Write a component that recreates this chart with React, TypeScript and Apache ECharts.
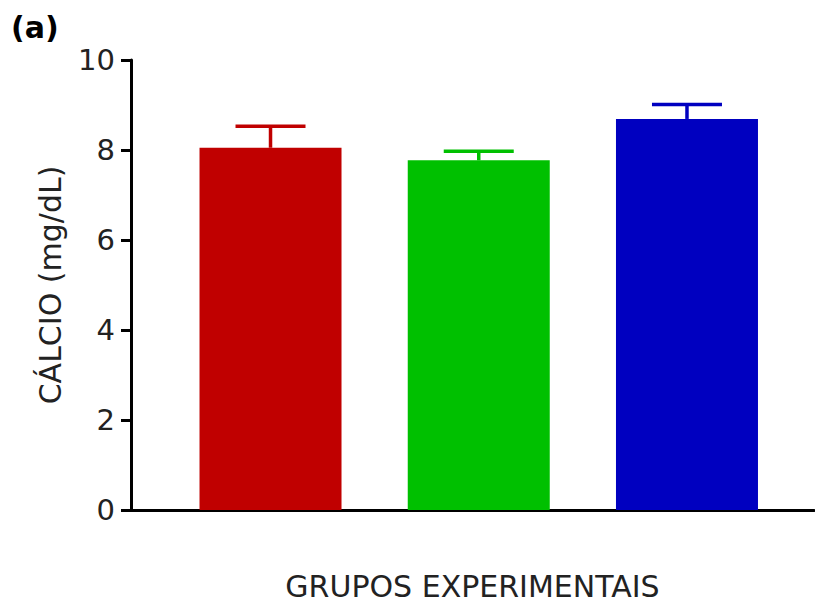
import React, { useEffect, useRef } from "react";
import * as echarts from "echarts";

const groups = ["Grupo 1", "Grupo 2", "Grupo 3"];
const means = [8.05, 7.77, 8.69];
const upper = [8.53, 7.97, 9.01];
const colors = ["#C00000", "#00C000", "#0000C0"];
const yTicks = [0, 2, 4, 6, 8, 10];

export default function App() {
  const ref = useRef<HTMLDivElement>(null);
  useEffect(() => {
    const chart = echarts.init(ref.current!, null, { renderer: "svg" });
    const font = "DejaVu Sans";
    chart.setOption({
      animation: false,
      graphic: [
        {
          type: "text",
          left: 11,
          top: 12,
          style: { text: "(a)", font: "bold 30px 'DejaVu Sans'", fill: "#000" },
        },
      ],
      grid: { left: 131, right: 1, top: 60, bottom: 93 },
      xAxis: {
        type: "value",
        min: 0.33,
        max: 3.61,
        axisLine: { show: true, lineStyle: { color: "#000", width: 3 } },
        axisTick: { show: false },
        axisLabel: { show: false },
        splitLine: { show: false },
        name: "GRUPOS EXPERIMENTAIS",
        nameLocation: "middle",
        nameGap: 61,
        nameTextStyle: { fontFamily: font, fontSize: 30, color: "#222" },
      },
      yAxis: {
        type: "value",
        min: yTicks[0],
        max: yTicks[yTicks.length - 1],
        interval: 2,
        axisLine: { show: true, lineStyle: { color: "#000", width: 3 } },
        axisTick: { show: true, length: 10, lineStyle: { color: "#000", width: 3 } },
        axisLabel: { fontFamily: font, fontSize: 29, color: "#222", margin: 16 },
        splitLine: { show: false },
        name: "CÁLCIO (mg/dL)",
        nameLocation: "middle",
        nameGap: 66,
        nameTextStyle: { fontFamily: font, fontSize: 30, color: "#222" },
      },
      series: [
        {
          type: "bar",
          barWidth: 142,
          data: means.map((v, i) => ({
            value: [i + 1, v],
            name: groups[i],
            itemStyle: { color: colors[i] },
          })),
        },
        {
          type: "custom",
          data: means.map((v, i) => [i + 1, v, upper[i]]),
          renderItem: (params: any, api: any) => {
            const x = api.value(0);
            const lo = api.coord([x, api.value(1)]);
            const hi = api.coord([x, api.value(2)]);
            const c = colors[params.dataIndex];
            const half = 35;
            return {
              type: "group",
              children: [
                {
                  type: "line",
                  shape: { x1: lo[0], y1: lo[1], x2: hi[0], y2: hi[1] },
                  style: { stroke: c, lineWidth: 3.5 },
                },
                {
                  type: "line",
                  shape: { x1: hi[0] - half, y1: hi[1], x2: hi[0] + half, y2: hi[1] },
                  style: { stroke: c, lineWidth: 3.5 },
                },
              ],
            };
          },
        },
      ],
    });
    return () => chart.dispose();
  }, []);
  return <div ref={ref} style={{ width: 815, height: 606, position: "absolute", left: 0, top: 0 }} />;
}
